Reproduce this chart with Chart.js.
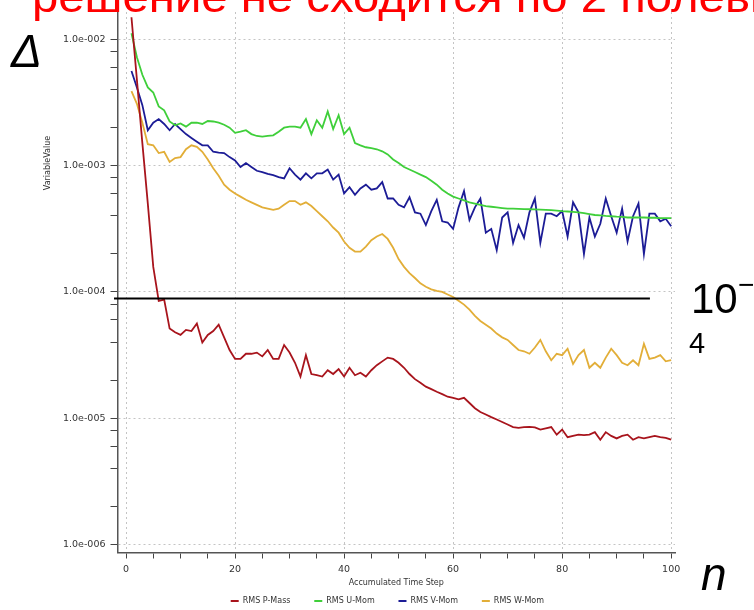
<!DOCTYPE html>
<html>
<head>
<meta charset="utf-8">
<script src="https://cdn.jsdelivr.net/npm/chart.js@4/dist/chart.umd.min.js"></script>
<style>
    html, body { margin: 0; padding: 0; background: #fff; }
    canvas { display: block; }
</style>
</head>
<body>
<canvas id="myChart" width="754" height="610"></canvas>
<script>
"use strict";

// accumulated time step (x)
const steps = [
    1, 2, 3, 4, 5, 6, 7, 8, 9, 10, 11, 12, 13, 14, 15, 16, 17, 18, 19, 20,
    21, 22, 23, 24, 25, 26, 27, 28, 29, 30, 31, 32, 33, 34, 35, 36, 37, 38, 39, 40,
    41, 42, 43, 44, 45, 46, 47, 48, 49, 50, 51, 52, 53, 54, 55, 56, 57, 58, 59, 60,
    61, 62, 63, 64, 65, 66, 67, 68, 69, 70, 71, 72, 73, 74, 75, 76, 77, 78, 79, 80,
    81, 82, 83, 84, 85, 86, 87, 88, 89, 90, 91, 92, 93, 94, 95, 96, 97, 98, 99, 100
];

const rmsPMass = [
    1.50e-2, 4.79e-3, 1.51e-3, 5.01e-4, 1.58e-4, 8.51e-5, 8.71e-5, 5.13e-5, 4.79e-5, 4.57e-5,
    5.01e-5, 4.90e-5, 5.62e-5, 3.98e-5, 4.57e-5, 4.90e-5, 5.50e-5, 4.37e-5, 3.47e-5, 2.95e-5,
    2.95e-5, 3.24e-5, 3.24e-5, 3.31e-5, 3.09e-5, 3.47e-5, 2.95e-5, 2.95e-5, 3.80e-5, 3.31e-5,
    2.75e-5, 2.14e-5, 3.16e-5, 2.24e-5, 2.19e-5, 2.14e-5, 2.40e-5, 2.24e-5, 2.45e-5, 2.14e-5,
    2.51e-5, 2.19e-5, 2.29e-5, 2.14e-5, 2.40e-5, 2.63e-5, 2.82e-5, 3.02e-5, 2.95e-5, 2.75e-5,
    2.51e-5, 2.24e-5, 2.04e-5, 1.91e-5, 1.78e-5, 1.70e-5, 1.62e-5, 1.55e-5, 1.48e-5, 1.45e-5,
    1.41e-5, 1.45e-5, 1.32e-5, 1.20e-5, 1.12e-5, 1.07e-5, 1.02e-5, 9.77e-6, 9.33e-6, 8.91e-6,
    8.50e-6, 8.40e-6, 8.50e-6, 8.55e-6, 8.45e-6, 8.13e-6, 8.32e-6, 8.51e-6, 7.41e-6, 8.13e-6,
    7.08e-6, 7.24e-6, 7.41e-6, 7.35e-6, 7.41e-6, 7.76e-6, 6.76e-6, 7.76e-6, 7.24e-6, 6.92e-6,
    7.24e-6, 7.41e-6, 6.76e-6, 7.08e-6, 6.92e-6, 7.08e-6, 7.24e-6, 7.08e-6, 7.00e-6, 6.76e-6
];

const rmsUMom = [
    1.12e-2, 7.24e-3, 5.25e-3, 4.17e-3, 3.80e-3, 2.95e-3, 2.75e-3, 2.24e-3, 2.09e-3, 2.16e-3,
    2.04e-3, 2.19e-3, 2.19e-3, 2.14e-3, 2.26e-3, 2.24e-3, 2.19e-3, 2.11e-3, 2.00e-3, 1.82e-3,
    1.86e-3, 1.91e-3, 1.78e-3, 1.72e-3, 1.70e-3, 1.72e-3, 1.74e-3, 1.86e-3, 2.00e-3, 2.04e-3,
    2.04e-3, 2.00e-3, 2.34e-3, 1.78e-3, 2.29e-3, 2.00e-3, 2.69e-3, 1.95e-3, 2.51e-3, 1.78e-3,
    2.00e-3, 1.51e-3, 1.45e-3, 1.40e-3, 1.38e-3, 1.35e-3, 1.30e-3, 1.23e-3, 1.12e-3, 1.05e-3,
    9.77e-4, 9.33e-4, 8.91e-4, 8.51e-4, 8.13e-4, 7.59e-4, 7.08e-4, 6.46e-4, 6.03e-4, 5.69e-4,
    5.50e-4, 5.31e-4, 5.13e-4, 5.01e-4, 4.90e-4, 4.79e-4, 4.73e-4, 4.68e-4, 4.62e-4, 4.57e-4,
    4.57e-4, 4.55e-4, 4.53e-4, 4.52e-4, 4.51e-4, 4.49e-4, 4.47e-4, 4.45e-4, 4.41e-4, 4.37e-4,
    4.34e-4, 4.31e-4, 4.27e-4, 4.21e-4, 4.14e-4, 4.07e-4, 4.05e-4, 4.01e-4, 3.98e-4, 3.95e-4,
    3.93e-4, 3.89e-4, 3.89e-4, 3.89e-4, 3.89e-4, 3.87e-4, 3.87e-4, 3.85e-4, 3.85e-4, 3.85e-4
];

const rmsVMom = [
    5.62e-3, 4.17e-3, 3.02e-3, 1.91e-3, 2.19e-3, 2.34e-3, 2.14e-3, 1.91e-3, 2.14e-3, 1.95e-3,
    1.78e-3, 1.66e-3, 1.55e-3, 1.45e-3, 1.45e-3, 1.29e-3, 1.27e-3, 1.26e-3, 1.17e-3, 1.10e-3,
    9.77e-4, 1.05e-3, 9.77e-4, 9.12e-4, 8.91e-4, 8.61e-4, 8.41e-4, 8.13e-4, 7.94e-4, 9.55e-4,
    8.51e-4, 7.76e-4, 8.71e-4, 7.94e-4, 8.71e-4, 8.71e-4, 9.33e-4, 7.76e-4, 8.51e-4, 6.03e-4,
    6.76e-4, 5.89e-4, 6.61e-4, 7.08e-4, 6.46e-4, 6.61e-4, 7.41e-4, 5.50e-4, 5.50e-4, 4.90e-4,
    4.68e-4, 5.62e-4, 4.27e-4, 4.17e-4, 3.39e-4, 4.37e-4, 5.37e-4, 3.63e-4, 3.55e-4, 3.16e-4,
    4.68e-4, 6.31e-4, 3.72e-4, 4.68e-4, 5.50e-4, 2.95e-4, 3.16e-4, 2.14e-4, 3.89e-4, 4.27e-4,
    2.45e-4, 3.39e-4, 2.69e-4, 4.27e-4, 5.50e-4, 2.45e-4, 4.17e-4, 4.17e-4, 3.98e-4, 4.37e-4,
    2.75e-4, 5.13e-4, 4.27e-4, 2.00e-4, 3.89e-4, 2.75e-4, 3.47e-4, 5.50e-4, 3.98e-4, 2.95e-4,
    4.57e-4, 2.51e-4, 3.98e-4, 5.01e-4, 2.00e-4, 4.17e-4, 4.17e-4, 3.63e-4, 3.80e-4, 3.31e-4
];

const rmsWMom = [
    3.89e-3, 3.09e-3, 2.19e-3, 1.48e-3, 1.45e-3, 1.26e-3, 1.29e-3, 1.07e-3, 1.15e-3, 1.17e-3,
    1.35e-3, 1.45e-3, 1.41e-3, 1.29e-3, 1.12e-3, 9.55e-4, 8.32e-4, 7.08e-4, 6.46e-4, 6.03e-4,
    5.69e-4, 5.37e-4, 5.13e-4, 4.90e-4, 4.68e-4, 4.57e-4, 4.47e-4, 4.57e-4, 4.90e-4, 5.25e-4,
    5.25e-4, 4.90e-4, 5.13e-4, 4.79e-4, 4.37e-4, 3.98e-4, 3.63e-4, 3.24e-4, 2.95e-4, 2.51e-4,
    2.24e-4, 2.09e-4, 2.09e-4, 2.29e-4, 2.57e-4, 2.75e-4, 2.88e-4, 2.63e-4, 2.24e-4, 1.82e-4,
    1.58e-4, 1.41e-4, 1.29e-4, 1.17e-4, 1.10e-4, 1.05e-4, 1.02e-4, 1.00e-4, 9.55e-5, 9.12e-5,
    8.51e-5, 7.94e-5, 7.24e-5, 6.46e-5, 5.89e-5, 5.50e-5, 5.13e-5, 4.68e-5, 4.37e-5, 4.17e-5,
    3.80e-5, 3.47e-5, 3.39e-5, 3.24e-5, 3.63e-5, 4.17e-5, 3.39e-5, 2.88e-5, 3.24e-5, 3.16e-5,
    3.55e-5, 2.69e-5, 3.16e-5, 3.47e-5, 2.51e-5, 2.75e-5, 2.51e-5, 3.02e-5, 3.55e-5, 3.16e-5,
    2.75e-5, 2.63e-5, 2.88e-5, 2.63e-5, 3.89e-5, 2.95e-5, 3.02e-5, 3.16e-5, 2.82e-5, 2.88e-5
];

const seriesNames = ["RMS P-Mass", "RMS U-Mom", "RMS V-Mom", "RMS W-Mom"];
const seriesColors = ["#a8141c", "#3fcf3a", "#1c1c96", "#e2ae38"];

// axis ticks
const xLabelTicks = [0, 20, 40, 60, 80, 100];
const xMinorTicks = [5, 10, 15, 25, 30, 35, 45, 50, 55, 65, 70, 75, 85, 90, 95];
const yDecades = [1e-6, 1e-5, 1e-4, 1e-3, 1e-2];
const yMinorFactors = [2, 4, 6, 8];

// hand-drawn level line and captions on the slide
const levelValue = 9e-5;
const levelFrom = -2.2;
const levelTo = 96.1;
const slideTitle = "решение не сходится по 2 полевым переменным";
const slideTitleVisible = "решение не сходится по 2 полев";

const axisFont = { family: "DejaVu Sans", size: 8 };
const tickFont = { family: "DejaVu Sans", size: 9.5 };
const gridColor = "#c4c4c4";

const isDecade = v => yDecades.some(d => Math.abs(v / d - 1) < 1e-6);

const formatExp = v => {
    const e = Math.round(Math.log10(v));
    return "1.0e-" + String(-e).padStart(3, "0");
};

const slideText = {
    id: "slideText",
    afterDraw(chart) {
        const { ctx, scales: { x, y } } = chart;
        ctx.save();

        // black level line
        const ly = Math.round(y.getPixelForValue(levelValue)) + 0.5;
        ctx.strokeStyle = "#000";
        ctx.lineWidth = 2;
        ctx.beginPath();
        ctx.moveTo(x.getPixelForValue(levelFrom), ly);
        ctx.lineTo(x.getPixelForValue(levelTo), ly);
        ctx.stroke();

        // y axis title
        ctx.fillStyle = "#333";
        ctx.font = "8px 'DejaVu Sans'";
        ctx.textAlign = "center";
        ctx.textBaseline = "middle";
        ctx.translate(48, 163);
        ctx.rotate(-Math.PI / 2);
        ctx.fillText("VariableValue", 0, 0);
        ctx.setTransform(1, 0, 0, 1, 0, 0);

        // red headline, cut by the top edge
        ctx.fillStyle = "#ff0000";
        ctx.textAlign = "left";
        ctx.textBaseline = "alphabetic";
        ctx.font = "44px 'Liberation Sans'";
        const sx = 718 / ctx.measureText(slideTitleVisible).width;
        ctx.save();
        ctx.scale(sx, 1);
        ctx.fillText(slideTitle, 32 / sx, 12);
        ctx.restore();

        // big symbols
        ctx.fillStyle = "#000";
        ctx.font = "italic 46px 'Liberation Sans'";
        ctx.fillText("Δ", 11, 67);
        ctx.fillText("n", 701, 590);
        ctx.font = "42px 'Liberation Sans'";
        ctx.fillText("10", 691, 313);
        ctx.font = "28px 'Liberation Sans'";
        ctx.fillText("\u2212", 738, 294);
        ctx.font = "29px 'Liberation Sans'";
        ctx.fillText("4", 689, 353);

        ctx.restore();
    }
};

const renderChart = () => {
    const ctx = document.getElementById("myChart");

    const series = [rmsPMass, rmsUMom, rmsVMom, rmsWMom];
    const datasets = series.map((vals, i) => ({
        label: seriesNames[i],
        data: steps.map((s, j) => ({ x: s, y: vals[j] })),
        borderColor: seriesColors[i],
        backgroundColor: seriesColors[i],
        borderWidth: 1.8,
        pointRadius: 0,
        tension: 0
    }));

    new Chart(ctx, {
        type: "line",
        data: { datasets },
        plugins: [slideText],
        options: {
            responsive: false,
            animation: false,
            devicePixelRatio: 1,
            layout: { padding: { top: 12, right: 79, left: 0, bottom: -5 } },
            plugins: {
                tooltip: { enabled: false },
                legend: {
                    position: "bottom",
                    fullSize: false,
                    labels: {
                        font: axisFont,
                        color: "#333",
                        usePointStyle: true,
                        pointStyle: "line",
                        pointStyleWidth: 8,
                        padding: 6,
                        // extra room between the entries, as in the original
                        generateLabels: chart => Chart.defaults.plugins.legend.labels
                            .generateLabels(chart)
                            .map(item => ({ ...item, text: item.text + "       " }))
                    }
                }
            },
            scales: {
                x: {
                    type: "linear",
                    min: -1.56,
                    max: 100.7,
                    afterBuildTicks: scale => {
                        scale.ticks = xLabelTicks.concat(xMinorTicks)
                            .sort((a, b) => a - b)
                            .map(v => ({ value: v }));
                    },
                    afterFit: scale => { scale.height = 38.5; },
                    ticks: {
                        autoSkip: false,
                        maxRotation: 0,
                        font: tickFont,
                        color: "#333",
                        padding: 5,
                        callback: v => xLabelTicks.includes(v) ? String(v) : ""
                    },
                    grid: {
                        color: c => (c.tick && xLabelTicks.includes(c.tick.value)) ? gridColor : "rgba(0,0,0,0)",
                        tickColor: "#444",
                        tickLength: 6,
                        tickBorderDash: [],
                        lineWidth: 1
                    },
                    border: { color: "#555", width: 1.5, dash: [2, 3] },
                    title: {
                        display: true,
                        text: "Accumulated Time Step",
                        font: axisFont,
                        color: "#333",
                        padding: { top: 2, bottom: 3 }
                    }
                },
                y: {
                    type: "logarithmic",
                    min: 8.64e-7,
                    max: 1.65e-2,
                    afterBuildTicks: scale => {
                        const list = [];
                        yDecades.forEach(d => {
                            list.push(d);
                            yMinorFactors.forEach(f => {
                                if (d * f < scale.max) list.push(d * f);
                            });
                        });
                        scale.ticks = list.sort((a, b) => a - b).map(v => ({ value: v }));
                    },
                    afterFit: scale => { scale.width = 117.5; },
                    ticks: {
                        autoSkip: false,
                        font: tickFont,
                        color: "#333",
                        padding: 5,
                        callback: v => isDecade(v) ? formatExp(v) : ""
                    },
                    grid: {
                        color: c => (c.tick && isDecade(c.tick.value)) ? gridColor : "rgba(0,0,0,0)",
                        tickColor: "#444",
                        tickLength: 7,
                        tickBorderDash: [],
                        lineWidth: 1
                    },
                    border: { color: "#555", width: 1.5, dash: [2, 3] }
                }
            }
        }
    });
};

document.addEventListener("DOMContentLoaded", () => {
    renderChart();
});
</script>
</body>
</html>
